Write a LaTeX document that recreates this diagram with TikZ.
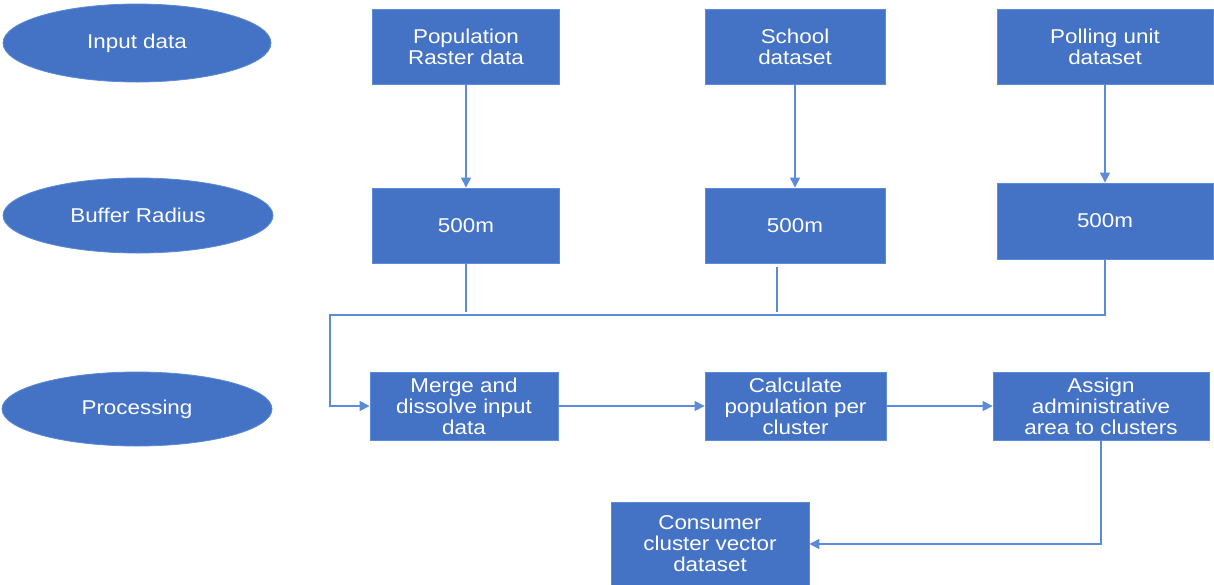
\documentclass[tikz,border=0pt]{standalone}
\usepackage{fontspec}
\setmainfont[FakeStretch=1.12]{Liberation Sans}
\usetikzlibrary{arrows.meta,shapes.geometric,calc}
\definecolor{boxblue}{HTML}{4472C4}
\definecolor{lineblue}{HTML}{5B8BD9}
\begin{document}
\begin{tikzpicture}[x=1pt,y=-1pt,
  every node/.style={font=\fontsize{20}{21}\selectfont, text=white, align=center, inner sep=0pt},
  stepbox/.style={rectangle, fill=boxblue, draw=lineblue, line width=0.8pt},
  phase/.style={ellipse, fill=boxblue, draw=lineblue, line width=0.8pt},
  conn/.style={draw=lineblue, line width=1.2pt},
  arr/.style={conn, -{Triangle[length=10pt,width=10pt]}}]
\useasboundingbox (0,0) rectangle (1214,584);
% phase labels
\node[phase, minimum width=268pt, minimum height=78pt] (e1) at (137,43) {Input data};
\node[phase, minimum width=270pt, minimum height=75pt] (e2) at (138,215.5) {Buffer Radius};
\node[phase, minimum width=270pt, minimum height=74pt] (e3) at (137,409) {Processing};
% input boxes
\node[stepbox, minimum width=187pt, minimum height=75pt] (pop) at (466,46.5) {Population\\Raster data};
\node[stepbox, minimum width=180pt, minimum height=75pt] (school) at (795,46.5) {School\\dataset};
\node[stepbox, minimum width=216pt, minimum height=75pt] (poll) at (1105,46.5) {Polling unit\\dataset};
% buffer boxes
\node[stepbox, minimum width=187pt, minimum height=75pt] (b1) at (466,225.5) {500m};
\node[stepbox, minimum width=180pt, minimum height=75pt] (b2) at (795,225.5) {500m};
\node[stepbox, minimum width=216pt, minimum height=76pt] (b3) at (1105,221) {500m};
% processing boxes
\node[stepbox, minimum width=188pt, minimum height=68pt] (merge) at (464,406) {Merge and\\dissolve input\\data};
\node[stepbox, minimum width=181pt, minimum height=68pt] (calc) at (795.5,406) {Calculate\\population per\\cluster};
\node[stepbox, minimum width=216pt, minimum height=68pt] (assign) at (1101,406) {Assign\\administrative\\area to clusters};
\node[stepbox, minimum width=198pt, minimum height=84pt] (consumer) at (710,544) {Consumer\\cluster vector\\dataset};
% connectors
\draw[arr] (pop.south) -- (b1.north);
\draw[arr] (school.south) -- (b2.north);
\draw[arr] (poll.south) -- (b3.north);
\coordinate (busL) at (330,315);
\coordinate (busR) at (1105,315);
\coordinate (j2) at (777,312);
\coordinate (j2top) at (777,267);
\draw[conn] (b1.south) -- (b1.south |- j2);
\draw[conn] (j2top) -- (j2);
\draw[arr] (b3.south) -- (busR) -- (busL) -- (busL |- merge.west) -- (merge.west);
\draw[arr] (merge.east) -- (calc.west);
\draw[arr] (calc.east) -- (assign.west);
\draw[arr] (assign.south) -- (assign.south |- consumer.east) -- (consumer.east);
\end{tikzpicture}
\end{document}
